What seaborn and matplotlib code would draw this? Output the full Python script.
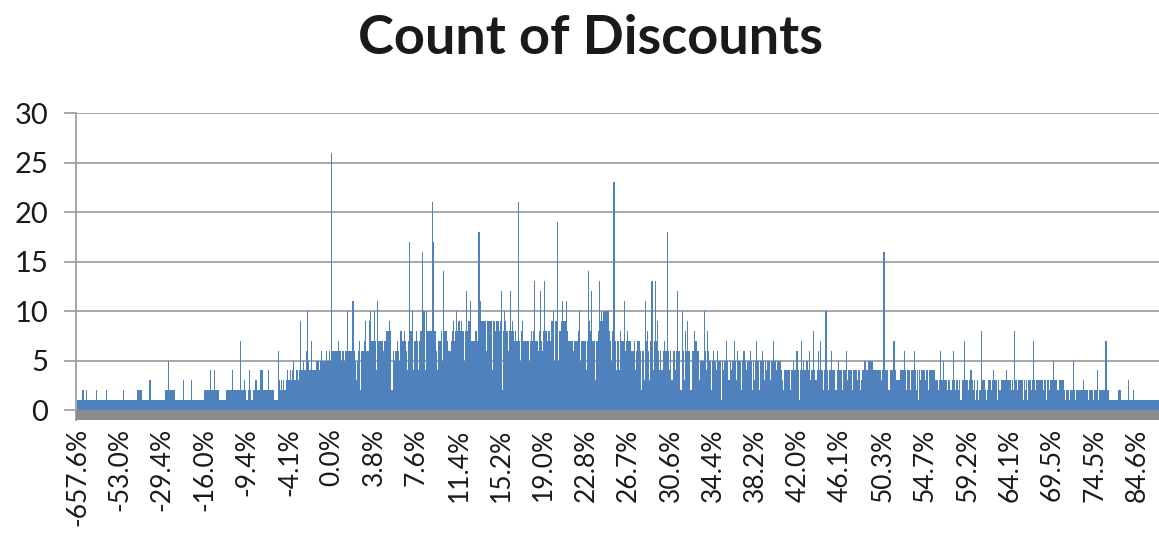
import numpy as np
import pandas as pd
import matplotlib.pyplot as plt
import seaborn as sns

# counts per discount value left to right
neg_counts = [
    1, 1, 1, 1, 1, 2, 1, 1, 2, 1, 1, 1, 1, 1, 1, 1, 1, 2, 1, 1,
    1, 1, 1, 1, 1, 1, 2, 1, 1, 1, 1, 1, 1, 1, 1, 1, 1, 1, 1, 1,
    1, 2, 1, 1, 1, 1, 1, 1, 1, 1, 1, 1, 1, 1, 2, 2, 2, 2, 1, 1,
    1, 1, 1, 1, 1, 3, 1, 1, 1, 1, 1, 1, 1, 1, 1, 1, 1, 1, 1, 2,
    2, 2, 5, 2, 2, 2, 2, 2, 1, 1, 1, 1, 1, 1, 1, 3, 1, 1, 1, 1,
    1, 1, 3, 1, 1, 1, 1, 1, 1, 1, 1, 1, 1, 1, 2, 2, 2, 2, 2, 4,
    2, 2, 2, 4, 2, 2, 2, 1, 1, 1, 1, 1, 1, 1, 2, 2, 2, 2, 2, 4,
    2, 2, 2, 2, 2, 2, 7, 2, 2, 2, 3, 2, 1, 2, 4, 2, 1, 1, 2, 2,
    3, 2, 2, 2, 4, 4, 4, 2, 2, 2, 2, 4, 2, 2, 2, 2, 2, 1, 1, 1,
    6, 3, 2, 3, 2, 3, 2, 3, 4, 3, 3, 4, 3, 4, 5, 3, 4, 4, 3, 4,
    9, 4, 4, 5, 4, 6, 10, 5, 4, 4, 7, 4, 4, 4, 5, 5, 5, 4, 5, 6,
    5, 5, 5, 6, 5, 5, 6, 5,
]
low_counts = [
    26, 6, 6, 6, 6, 6, 7, 6, 6, 5,
    6, 5, 6, 6, 10, 6, 6, 6, 6, 11,
    6, 5, 3, 5, 6, 7, 2, 6, 6, 7,
    9, 6, 6, 6, 9, 10, 7, 7, 10, 7,
    4, 11, 7, 7, 7, 7, 6, 7, 7, 8,
    8, 8, 9, 8, 2, 6, 5, 6, 6, 7,
    6, 5, 8, 7, 7, 8, 7, 6, 4, 7,
    17, 8, 10, 4, 7, 7, 8, 7, 4, 7,
    8, 16, 10, 10, 4, 10, 8, 8, 8, 8,
    21, 17, 8, 8, 6, 4, 7, 7, 8, 5,
    14, 8, 8, 8, 7, 6, 6, 7, 8, 9,
    7, 8, 10, 8, 9, 8, 9, 8, 8, 5,
    8, 12, 8, 9, 11, 7, 7, 7, 7, 8,
    8, 7, 18, 11, 9, 9, 9, 9, 9, 6,
    9, 9, 9, 9, 4, 9, 9, 8, 9, 9,
    8, 9, 12, 2, 8, 10, 9, 8, 6, 8,
    12, 8, 9, 8, 7, 8, 7, 21, 7, 5,
]
mid_counts = [
    8, 9, 7, 7, 7, 7, 7, 5, 7, 8,
    7, 8, 13, 7, 7, 6, 8, 12, 7, 6,
    8, 13, 8, 7, 8, 8, 7, 9, 9, 10,
    5, 9, 19, 5, 8, 8, 9, 11, 9, 9,
    11, 8, 7, 7, 7, 7, 7, 6, 7, 7,
    7, 8, 10, 5, 7, 7, 7, 7, 4, 7,
    14, 9, 8, 12, 7, 7, 3, 7, 7, 8,
    13, 9, 10, 9, 10, 10, 10, 10, 10, 8,
    7, 5, 8, 23, 7, 4, 7, 7, 4, 8,
    7, 7, 11, 6, 7, 8, 7, 7, 7, 6,
    6, 7, 4, 6, 7, 7, 7, 6, 2, 6,
    3, 11, 7, 8, 6, 3, 7, 13, 4, 7,
    13, 7, 9, 6, 4, 6, 4, 6, 7, 6,
    6, 18, 6, 4, 6, 3, 6, 6, 4, 6,
    12, 6, 6, 2, 10, 6, 3, 8, 6, 9,
    6, 6, 2, 6, 6, 8, 7, 7, 6, 6,
    3, 5, 5, 5, 10, 6, 4, 8, 6, 5,
]
high_counts = [
    2, 5, 6, 5, 5, 4, 6, 5, 5, 1,
    5, 4, 5, 5, 7, 5, 3, 5, 4, 5,
    5, 7, 5, 3, 6, 5, 5, 2, 5, 6,
    6, 5, 4, 5, 5, 6, 5, 2, 5, 3,
    5, 7, 5, 2, 5, 5, 6, 5, 3, 5,
    4, 5, 5, 3, 5, 5, 7, 5, 5, 4,
    5, 5, 5, 4, 3, 2, 4, 4, 4, 4,
    4, 2, 4, 4, 5, 4, 4, 6, 4, 1,
    4, 7, 4, 5, 4, 4, 5, 4, 6, 3,
    4, 4, 8, 4, 3, 4, 6, 4, 7, 4,
    4, 2, 4, 10, 4, 2, 4, 4, 6, 4,
    4, 4, 2, 4, 5, 4, 4, 4, 2, 4,
    4, 6, 3, 4, 4, 4, 4, 2, 4, 4,
    4, 3, 4, 4, 2, 3, 4, 4, 5, 4,
    4, 5, 5, 5, 5, 5, 4, 4, 4, 4,
    4, 4, 4, 3, 4, 16, 4, 4, 4, 2,
    2, 4, 4, 4, 7, 4, 3, 3, 3, 3,
    4, 4, 4, 6, 4, 2, 4, 4, 4, 2,
    4, 4, 6, 4, 2, 4, 1, 4, 3, 4,
    4, 4, 3, 4, 4, 2, 4, 4, 4, 4,
]
tail_counts = [
    4, 3, 3, 3, 2, 3, 6, 3, 5, 3,
    3, 3, 2, 3, 3, 2, 3, 6, 3, 2,
    3, 3, 2, 3, 1, 3, 3, 7, 3, 3,
    3, 2, 3, 4, 3, 2, 3, 1, 2, 3,
    1, 2, 8, 3, 3, 3, 2, 1, 2, 3,
    3, 2, 3, 4, 3, 3, 3, 1, 3, 2,
    3, 3, 3, 3, 3, 4, 3, 3, 3, 2,
    3, 2, 8, 3, 3, 2, 3, 3, 3, 3,
    1, 3, 2, 3, 1, 3, 3, 2, 3, 7,
    3, 2, 3, 3, 3, 3, 3, 3, 2, 3,
    3, 1, 3, 2, 3, 3, 3, 5, 3, 3,
    3, 2, 3, 3, 3, 3, 3, 2, 1, 2,
    2, 1, 2, 2, 2, 5, 2, 1, 2, 2,
    2, 2, 2, 2, 3, 2, 2, 2, 1, 2,
    2, 2, 2, 1, 2, 2, 4, 1, 2, 2,
    2, 2, 2, 2, 7, 2, 2, 1, 1, 1,
    1, 1, 1, 1, 1, 2, 2, 2, 1, 1,
    1, 1, 1, 1, 3, 1, 1, 1, 1, 2,
    1, 1, 1, 1, 1, 1, 1, 1, 1, 1,
    1, 1, 1, 1, 1, 1, 1, 1, 1, 1, 1, 1,
]

tick_labels = ["-657.6%", "-53.0%", "-29.4%", "-16.0%", "-9.4%", "-4.1%",
               "0.0%", "3.8%", "7.6%", "11.4%", "15.2%", "19.0%", "22.8%",
               "26.7%", "30.6%", "34.4%", "38.2%", "42.0%", "46.1%", "50.3%",
               "54.7%", "59.2%", "64.1%", "69.5%", "74.5%", "84.6%"]
label_step = 38

counts = neg_counts + low_counts + mid_counts + high_counts + tail_counts
df = pd.DataFrame({"pos": np.arange(len(counts)), "count": counts})

sns.set_style("white")
plt.rcParams['font.family'] = ['Lato', 'DejaVu Sans']

W, H = 1159, 539
fig = plt.figure(figsize=(W / 100, H / 100), dpi=100)
ax = fig.add_axes([76 / W, 1 - 420 / H, 1 - 76 / W, 307 / H])

sns.barplot(data=df, x="pos", y="count", color="#4f81bd", saturation=1,
            width=1.0, linewidth=0, errorbar=None, antialiased=False, ax=ax)
ax.axhspan(-1, 0, color="#8c8c8c", lw=0, zorder=3)

ax.set_ylim(-1, 30)
ax.set_xlim(-1.3, len(counts) - 0.5)
ax.set_yticks(range(0, 31, 5))
ax.set_xticks(range(0, label_step * len(tick_labels), label_step))
ax.set_xticklabels(tick_labels, rotation=90)
ax.set_xlabel("")
ax.set_ylabel("")

ax.yaxis.grid(True, color="#a0a0a0", lw=1.3)
ax.set_axisbelow(True)
for s in ["top", "right", "bottom"]:
    ax.spines[s].set_visible(False)
ax.spines["left"].set_color("#a0a0a0")
ax.spines["left"].set_linewidth(1.3)

ax.tick_params(axis="y", length=9, width=1.3, color="#a0a0a0",
               labelsize=21, pad=11, labelcolor="#1a1a1a", left=True)
ax.tick_params(axis="x", length=0, labelsize=19, pad=6, labelcolor="#1a1a1a")

fig.text(591 / W, 1 - 38 / H, "Count of Discounts", ha="center", va="center",
         fontsize=39, fontweight="bold", color="#1a1a1a")

fig.savefig("out.png", dpi=100)
